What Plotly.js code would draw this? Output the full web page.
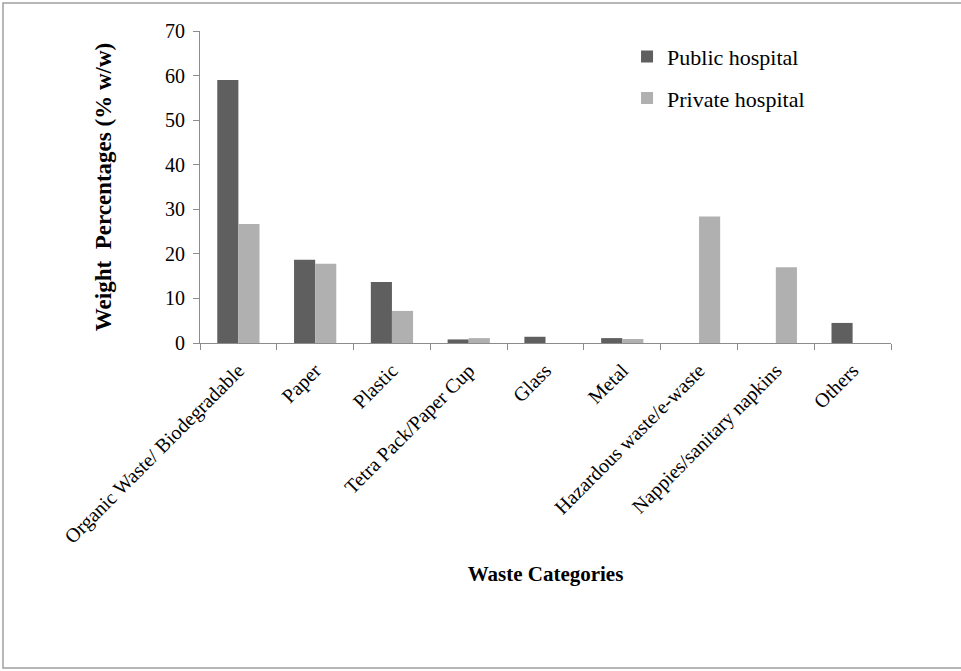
<!DOCTYPE html>
<html>
<head>
<meta charset="utf-8">
<script src="https://cdn.plot.ly/plotly-3.0.1.min.js"></script>
<style>
html,body{margin:0;padding:0;background:#fff;}
#chart{width:961px;height:671px;}
</style>
</head>
<body>
<div id="chart"></div>
<script>
const categories = ["Organic Waste/ Biodegradable", "Paper", "Plastic", "Tetra Pack/Paper Cup", "Glass", "Metal", "Hazardous waste/e-waste", "Nappies/sanitary napkins", "Others"];
const publicHospital = [59.0, 18.7, 13.7, 0.8, 1.4, 1.1, 0, 0, 4.5];
const privateHospital = [26.7, 17.8, 7.2, 1.1, 0, 0.9, 28.4, 17.0, 0];
const yTicks = [0, 10, 20, 30, 40, 50, 60, 70];

const serif = "Liberation Serif, Times New Roman, serif";

const traces = [
  {type: "bar", name: "Public hospital", x: categories, y: publicHospital,
   marker: {color: "#5f5f5f"}, legendgroup: "a"},
  {type: "bar", name: "Private hospital", x: categories, y: privateHospital,
   marker: {color: "#b0b0b0"}, legendgroup: "b"}
];

const layout = {
  width: 961, height: 671,
  margin: {l: 200, r: 70, t: 31, b: 328},
  paper_bgcolor: "#fff", plot_bgcolor: "#fff",
  font: {family: serif, color: "#000", size: 20},
  barmode: "group", bargap: 0.45, bargroupgap: 0,
  showlegend: true,
  legend: {x: 0.618, y: 0.985, xanchor: "left", yanchor: "top",
    font: {family: serif, size: 22, color: "#000"},
    traceorder: "grouped", tracegroupgap: 10, bgcolor: "rgba(0,0,0,0)"},
  xaxis: {
    type: "category", tickangle: -45,
    showline: true, linecolor: "#8c8c8c", linewidth: 1,
    ticks: "outside", tickson: "boundaries", ticklen: 6, tickcolor: "#8c8c8c",
    tickfont: {family: serif, size: 20, color: "#000"},
    ticklabelstandoff: 7,
    showgrid: false, zeroline: false,
    title: {text: "<b>Waste Categories</b>", font: {family: serif, size: 21, color: "#000"}, standoff: 18}
  },
  yaxis: {
    range: [0, 70], tickvals: yTicks, ticktext: yTicks.map(String),
    showline: true, linecolor: "#8c8c8c", linewidth: 1,
    ticks: "outside", ticklen: 6, tickcolor: "#8c8c8c",
    tickfont: {family: serif, size: 20, color: "#000"},
    ticklabelstandoff: 4,
    showgrid: false, zeroline: false,
    title: {text: "<b>Weight  Percentages (% w/w)</b>", font: {family: serif, size: 23, color: "#000"}, standoff: 46}
  },
  shapes: [
    {type: "rect", xref: "paper", yref: "paper",
     x0: -197/691, x1: 889/691, y0: -325/312, y1: 340/312,
     line: {color: "#a0a0a0", width: 1.5}, fillcolor: "rgba(0,0,0,0)", layer: "below"}
  ]
};

Plotly.newPlot("chart", traces, layout, {displayModeBar: false, staticPlot: true});
</script>
</body>
</html>
